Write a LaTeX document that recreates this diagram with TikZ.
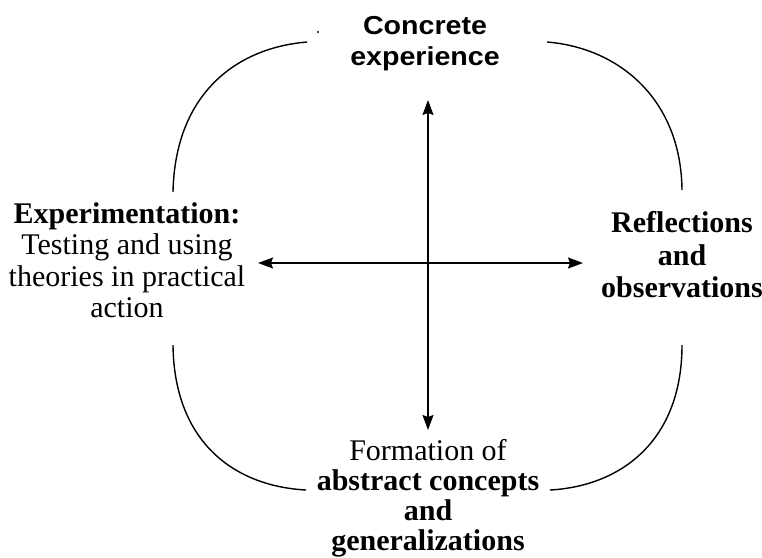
\documentclass[tikz,border=0pt]{standalone}
\usepackage{fontspec}
\setmainfont{Liberation Serif}
\setsansfont{Liberation Sans}
\newfontfamily\widesans[FakeStretch=1.1]{Liberation Sans}
\usetikzlibrary{arrows.meta}
\begin{document}
\begin{tikzpicture}[x=1pt,y=-1pt,
  arc/.style={line width=1.4pt},
  axis/.style={line width=1.4pt,{Stealth[length=15pt,width=11pt,inset=2pt]}-{Stealth[length=15pt,width=11pt,inset=2pt]}},
  sanslabel/.style={align=center,inner sep=0pt,anchor=north,font=\widesans\bfseries\fontsize{26}{31}\selectfont},
  seriflabel/.style={align=center,inner sep=0pt,anchor=north}]
\useasboundingbox (0,0) rectangle (762,557);
% labels
\node[sanslabel] (ce) at (425,16) {Concrete\\experience};
\node[seriflabel,font=\fontsize{30}{31.3}\selectfont] (ex) at (127,202.5) {\textbf{Experimentation:}\\Testing and using\\theories in practical\\action};
\node[seriflabel,font=\bfseries\fontsize{30}{32.5}\selectfont] (ro) at (682,211.5) {Reflections\\and\\observations};
\node[seriflabel,font=\fontsize{30}{30}\selectfont] (fa) at (428,439.5) {Formation of\\\textbf{abstract concepts}\\\textbf{and}\\\textbf{generalizations}};
% axis end points
\coordinate (top) at (428,100);
\coordinate (bot) at (428,430);
\coordinate (lft) at (258,263);
\coordinate (rgt) at (583,263);
\draw[axis] (top) -- (bot);
\draw[axis] (lft) -- (rgt);
% arcs
\coordinate (tl1) at (173,192);
\coordinate (tl2) at (307,42);
\coordinate (tr1) at (547,42);
\coordinate (tr2) at (682,190);
\coordinate (bl1) at (173,345);
\coordinate (bl2) at (306,490);
\coordinate (br1) at (682,345);
\coordinate (br2) at (550,490);
\draw[arc] (tl1) .. controls (175,95) and (235,48) .. (tl2);
\draw[arc] (tr1) .. controls (620,48) and (681,100) .. (tr2);
\draw[arc] (bl1) .. controls (174,440) and (232,486) .. (bl2);
\draw[arc] (br1) .. controls (682,440) and (622,486) .. (br2);
% stray dot
\fill (318,32) circle (1.2);
\end{tikzpicture}
\end{document}
